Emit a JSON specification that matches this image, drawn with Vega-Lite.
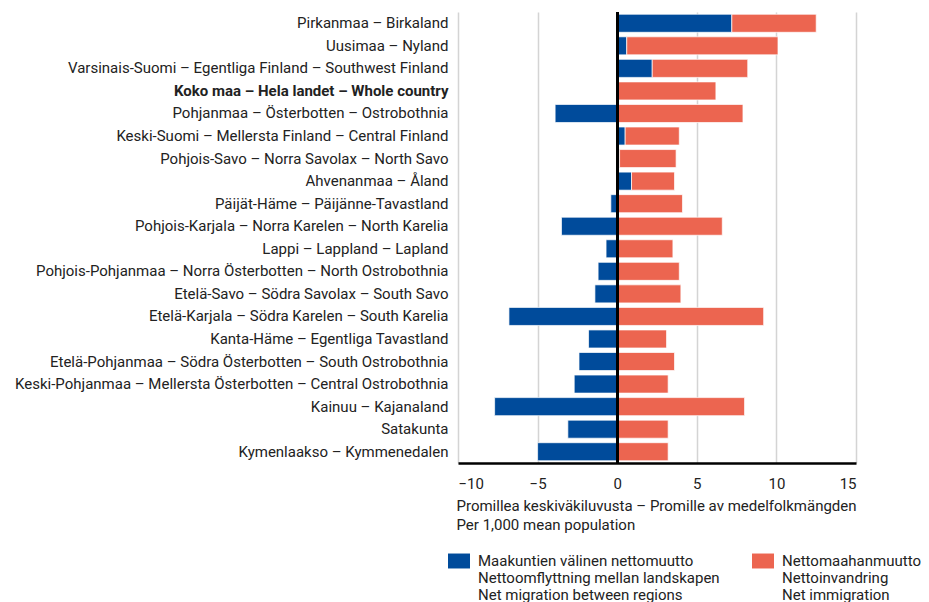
{
  "$schema": "https://vega.github.io/schema/vega-lite/v6.json",
  "width": 398,
  "height": 451,
  "autosize": {"type": "none"},
  "padding": {"left": 458, "top": 12, "right": 73, "bottom": 139},
  "background": "white",
  "config": {
    "font": "Roboto",
    "view": {"stroke": null},
    "axis": {"labelFont": "Roboto", "titleFont": "Roboto", "labelColor": "#222222", "titleColor": "#222222"},
    "legend": {"labelFont": "Roboto"}
  },
  "data": {
    "values": [
      {"region": "Pirkanmaa – Birkaland", "series": "Maakuntien välinen nettomuutto|Nettoomflyttning mellan landskapen|Net migration between regions", "o": 1, "value": 7.2},
      {"region": "Pirkanmaa – Birkaland", "series": "Nettomaahanmuutto|Nettoinvandring|Net immigration", "o": 2, "value": 5.3},
      {"region": "Uusimaa – Nyland", "series": "Maakuntien välinen nettomuutto|Nettoomflyttning mellan landskapen|Net migration between regions", "o": 1, "value": 0.6},
      {"region": "Uusimaa – Nyland", "series": "Nettomaahanmuutto|Nettoinvandring|Net immigration", "o": 2, "value": 9.5},
      {"region": "Varsinais-Suomi – Egentliga Finland – Southwest Finland", "series": "Maakuntien välinen nettomuutto|Nettoomflyttning mellan landskapen|Net migration between regions", "o": 1, "value": 2.2},
      {"region": "Varsinais-Suomi – Egentliga Finland – Southwest Finland", "series": "Nettomaahanmuutto|Nettoinvandring|Net immigration", "o": 2, "value": 6.0},
      {"region": "Koko maa – Hela landet – Whole country", "series": "Maakuntien välinen nettomuutto|Nettoomflyttning mellan landskapen|Net migration between regions", "o": 1, "value": 0},
      {"region": "Koko maa – Hela landet – Whole country", "series": "Nettomaahanmuutto|Nettoinvandring|Net immigration", "o": 2, "value": 6.2},
      {"region": "Pohjanmaa – Österbotten – Ostrobothnia", "series": "Maakuntien välinen nettomuutto|Nettoomflyttning mellan landskapen|Net migration between regions", "o": 1, "value": -3.9},
      {"region": "Pohjanmaa – Österbotten – Ostrobothnia", "series": "Nettomaahanmuutto|Nettoinvandring|Net immigration", "o": 2, "value": 7.9},
      {"region": "Keski-Suomi – Mellersta Finland – Central Finland", "series": "Maakuntien välinen nettomuutto|Nettoomflyttning mellan landskapen|Net migration between regions", "o": 1, "value": 0.5},
      {"region": "Keski-Suomi – Mellersta Finland – Central Finland", "series": "Nettomaahanmuutto|Nettoinvandring|Net immigration", "o": 2, "value": 3.4},
      {"region": "Pohjois-Savo – Norra Savolax – North Savo", "series": "Maakuntien välinen nettomuutto|Nettoomflyttning mellan landskapen|Net migration between regions", "o": 1, "value": 0.15},
      {"region": "Pohjois-Savo – Norra Savolax – North Savo", "series": "Nettomaahanmuutto|Nettoinvandring|Net immigration", "o": 2, "value": 3.55},
      {"region": "Ahvenanmaa – Åland", "series": "Maakuntien välinen nettomuutto|Nettoomflyttning mellan landskapen|Net migration between regions", "o": 1, "value": 0.9},
      {"region": "Ahvenanmaa – Åland", "series": "Nettomaahanmuutto|Nettoinvandring|Net immigration", "o": 2, "value": 2.7},
      {"region": "Päijät-Häme – Päijänne-Tavastland", "series": "Maakuntien välinen nettomuutto|Nettoomflyttning mellan landskapen|Net migration between regions", "o": 1, "value": -0.4},
      {"region": "Päijät-Häme – Päijänne-Tavastland", "series": "Nettomaahanmuutto|Nettoinvandring|Net immigration", "o": 2, "value": 4.1},
      {"region": "Pohjois-Karjala – Norra Karelen – North Karelia", "series": "Maakuntien välinen nettomuutto|Nettoomflyttning mellan landskapen|Net migration between regions", "o": 1, "value": -3.5},
      {"region": "Pohjois-Karjala – Norra Karelen – North Karelia", "series": "Nettomaahanmuutto|Nettoinvandring|Net immigration", "o": 2, "value": 6.6},
      {"region": "Lappi – Lappland – Lapland", "series": "Maakuntien välinen nettomuutto|Nettoomflyttning mellan landskapen|Net migration between regions", "o": 1, "value": -0.7},
      {"region": "Lappi – Lappland – Lapland", "series": "Nettomaahanmuutto|Nettoinvandring|Net immigration", "o": 2, "value": 3.5},
      {"region": "Pohjois-Pohjanmaa – Norra Österbotten – North Ostrobothnia", "series": "Maakuntien välinen nettomuutto|Nettoomflyttning mellan landskapen|Net migration between regions", "o": 1, "value": -1.2},
      {"region": "Pohjois-Pohjanmaa – Norra Österbotten – North Ostrobothnia", "series": "Nettomaahanmuutto|Nettoinvandring|Net immigration", "o": 2, "value": 3.9},
      {"region": "Etelä-Savo – Södra Savolax – South Savo", "series": "Maakuntien välinen nettomuutto|Nettoomflyttning mellan landskapen|Net migration between regions", "o": 1, "value": -1.4},
      {"region": "Etelä-Savo – Södra Savolax – South Savo", "series": "Nettomaahanmuutto|Nettoinvandring|Net immigration", "o": 2, "value": 4.0},
      {"region": "Etelä-Karjala – Södra Karelen – South Karelia", "series": "Maakuntien välinen nettomuutto|Nettoomflyttning mellan landskapen|Net migration between regions", "o": 1, "value": -6.8},
      {"region": "Etelä-Karjala – Södra Karelen – South Karelia", "series": "Nettomaahanmuutto|Nettoinvandring|Net immigration", "o": 2, "value": 9.2},
      {"region": "Kanta-Häme – Egentliga Tavastland", "series": "Maakuntien välinen nettomuutto|Nettoomflyttning mellan landskapen|Net migration between regions", "o": 1, "value": -1.8},
      {"region": "Kanta-Häme – Egentliga Tavastland", "series": "Nettomaahanmuutto|Nettoinvandring|Net immigration", "o": 2, "value": 3.1},
      {"region": "Etelä-Pohjanmaa – Södra Österbotten – South Ostrobothnia", "series": "Maakuntien välinen nettomuutto|Nettoomflyttning mellan landskapen|Net migration between regions", "o": 1, "value": -2.4},
      {"region": "Etelä-Pohjanmaa – Södra Österbotten – South Ostrobothnia", "series": "Nettomaahanmuutto|Nettoinvandring|Net immigration", "o": 2, "value": 3.6},
      {"region": "Keski-Pohjanmaa – Mellersta Österbotten – Central Ostrobothnia", "series": "Maakuntien välinen nettomuutto|Nettoomflyttning mellan landskapen|Net migration between regions", "o": 1, "value": -2.7},
      {"region": "Keski-Pohjanmaa – Mellersta Österbotten – Central Ostrobothnia", "series": "Nettomaahanmuutto|Nettoinvandring|Net immigration", "o": 2, "value": 3.2},
      {"region": "Kainuu – Kajanaland", "series": "Maakuntien välinen nettomuutto|Nettoomflyttning mellan landskapen|Net migration between regions", "o": 1, "value": -7.7},
      {"region": "Kainuu – Kajanaland", "series": "Nettomaahanmuutto|Nettoinvandring|Net immigration", "o": 2, "value": 8.0},
      {"region": "Satakunta", "series": "Maakuntien välinen nettomuutto|Nettoomflyttning mellan landskapen|Net migration between regions", "o": 1, "value": -3.1},
      {"region": "Satakunta", "series": "Nettomaahanmuutto|Nettoinvandring|Net immigration", "o": 2, "value": 3.2},
      {"region": "Kymenlaakso – Kymmenedalen", "series": "Maakuntien välinen nettomuutto|Nettoomflyttning mellan landskapen|Net migration between regions", "o": 1, "value": -5.0},
      {"region": "Kymenlaakso – Kymmenedalen", "series": "Nettomaahanmuutto|Nettoinvandring|Net immigration", "o": 2, "value": 3.2}
    ]
  },
  "layer": [
    {
      "mark": {"type": "bar", "stroke": "white", "strokeWidth": 1, "strokeOpacity": 0.7},
      "encoding": {
        "y": {
          "field": "region",
          "type": "nominal",
          "sort": null,
          "scale": {"paddingInner": 0.2, "paddingOuter": 0.1},
          "axis": {
            "title": null,
            "domain": false,
            "ticks": false,
            "labelPadding": 10,
            "labelLimit": 0,
            "labelFontSize": 15,
            "labelFontWeight": {"condition": {"test": "datum.value === 'Koko maa – Hela landet – Whole country'", "value": "bold"}, "value": "normal"}
          }
        },
        "x": {
          "field": "value",
          "type": "quantitative",
          "stack": "zero",
          "scale": {"domain": [-10, 15], "nice": false, "zero": false},
          "axis": {
            "values": [-10, -5, 0, 5, 10, 15],
            "grid": true,
            "gridColor": "#d4d4d4",
            "gridWidth": 1.5,
            "domainColor": "#000000",
            "domainWidth": 2.5,
            "ticks": false,
            "labelPadding": 13,
            "labelFontSize": 15,
            "title": ["Promillea keskiväkiluvusta – Promille av medelfolkmängden", "Per 1,000 mean population"],
            "titleFontSize": 15,
            "titleFontWeight": "normal",
            "titleAlign": "left",
            "titleAnchor": "start",
            "titleBaseline": "alphabetic",
            "titleX": -2,
            "titleY": 47,
            "titleLineHeight": 19
          }
        },
        "color": {
          "field": "series",
          "type": "nominal",
          "scale": {
            "domain": ["Maakuntien välinen nettomuutto|Nettoomflyttning mellan landskapen|Net migration between regions", "Nettomaahanmuutto|Nettoinvandring|Net immigration"],
            "range": ["#004b9b", "#ec6550"]
          },
          "legend": {
            "title": null,
            "orient": "none",
            "legendX": -10,
            "legendY": 538,
            "direction": "horizontal",
            "columns": 2,
            "columnPadding": 32,
            "symbolType": "M-1,-0.68H1V0.68H-1Z",
            "symbolSize": 484,
            "symbolStrokeWidth": 0,
            "symbolOpacity": 1,
            "labelExpr": "split(datum.label, '|')",
            "labelFontSize": 15,
            "labelColor": "#222222",
            "labelLimit": 0,
            "labelOffset": 8,
            "labelLineHeight": 18.5,
            "labelBaseline": "middle"
          }
        },
        "order": {"field": "o", "type": "quantitative"}
      }
    },
    {
      "mark": {"type": "rule", "color": "#000000", "strokeWidth": 2},
      "encoding": {"x": {"datum": 0}}
    }
  ]
}
